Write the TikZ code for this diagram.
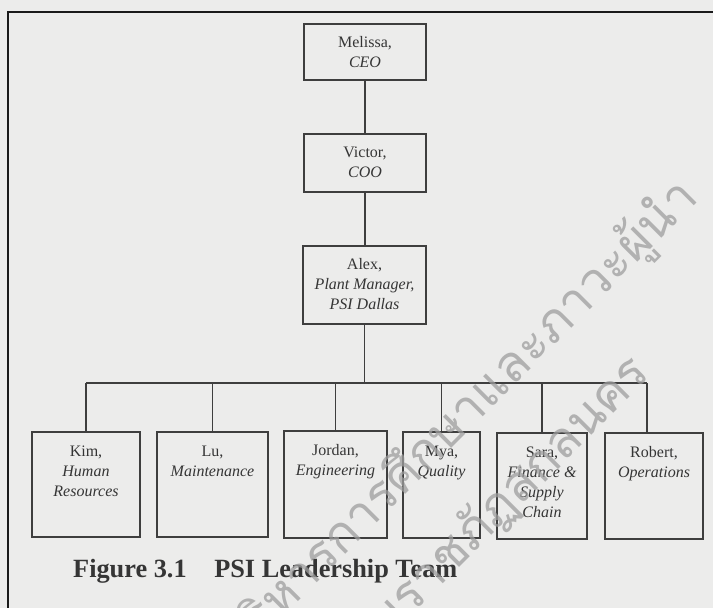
\documentclass[tikz,border=0pt]{standalone}
\usepackage{fontspec}
\setmainfont{Liberation Serif}
\newfontfamily\thaifont[Script=Thai]{Loma}
\definecolor{bgc}{HTML}{ECECEB}
\definecolor{linec}{HTML}{3E3E3E}
\definecolor{textc}{HTML}{353535}
\definecolor{framec}{HTML}{1A1A1A}
\definecolor{wmc}{HTML}{9E9E9E}
\begin{document}
\begin{tikzpicture}[x=1pt,y=-1pt,
  box/.style={draw=linec, line width=1.3pt, inner sep=0pt},
  lbl/.style={font=\fontsize{16}{20}\selectfont, text=textc, align=center, anchor=north, inner sep=0pt},
  link/.style={draw=linec, line width=1.4pt},
  wm/.style={font=\thaifont\fontsize{50}{60}\selectfont, text=wmc, rotate=45, anchor=base east, inner sep=0pt}]
\fill[bgc] (0,0) rectangle (713,608);
\useasboundingbox (0,0) rectangle (713,608);
\draw[line width=1.5pt, framec] (8,608) -- (8,12) -- (713,12);

% boxes
\node[box, minimum width=122pt, minimum height=56pt] (melissa) at (365,52) {};
\node[box, minimum width=122pt, minimum height=58pt] (victor) at (365,163) {};
\node[box, minimum width=123pt, minimum height=78pt] (alex) at (364.5,285) {};
\node[box, minimum width=108pt, minimum height=105pt] (kim) at (86,484.5) {};
\node[box, minimum width=111pt, minimum height=105pt] (lu) at (212.5,484.5) {};
\node[box, minimum width=103pt, minimum height=107pt] (jordan) at (335.5,484.5) {};
\node[box, minimum width=77pt, minimum height=106pt] (mya) at (441.5,485) {};
\node[box, minimum width=90pt, minimum height=106pt] (sara) at (542,486) {};
\node[box, minimum width=98pt, minimum height=106pt] (robert) at (654,486) {};

% labels
\node[lbl] (melissa-t) at ([yshift=-13pt]melissa.north) {Melissa,\\\textit{CEO}};
\node[lbl] (victor-t) at ([yshift=-13pt]victor.north) {Victor,\\\textit{COO}};
\node[lbl] (alex-t) at ([yshift=-13pt]alex.north) {Alex,\\\textit{Plant Manager,}\\\textit{PSI Dallas}};
\node[lbl] (kim-t) at ([yshift=-14pt]kim.north) {Kim,\\\textit{Human}\\\textit{Resources}};
\node[lbl] (lu-t) at ([yshift=-14pt]lu.north) {Lu,\\\textit{Maintenance}};
\node[lbl] (jordan-t) at ([yshift=-14pt]jordan.north) {Jordan,\\\textit{Engineering}};
\node[lbl] (mya-t) at ([yshift=-14pt]mya.north) {Mya,\\\textit{Quality}};
\node[lbl] (sara-t) at ([yshift=-14pt]sara.north) {Sara,\\\textit{Finance \&}\\\textit{Supply}\\\textit{Chain}};
\node[lbl] (robert-t) at ([yshift=-14pt]robert.north) {Robert,\\\textit{Operations}};

% connectors
\coordinate (bus) at (364.5,383);
\coordinate (rdrop) at (647,383);
\draw[link] (melissa.south) -- (melissa.south |- victor.north);
\draw[link] (victor.south) -- (victor.south |- alex.north);
\draw[link] (alex.south) -- (alex.south |- bus);
\draw[link] (kim.north |- bus) -- (rdrop);
\draw[link] (kim.north |- bus) -- (kim.north);
\draw[link] (lu.north |- bus) -- (lu.north);
\draw[link] (jordan.north |- bus) -- (jordan.north);
\draw[link] (mya.north |- bus) -- (mya.north);
\draw[link] (sara.north |- bus) -- (sara.north);
\draw[link] (rdrop) -- (rdrop |- robert.north);

% caption
\node[anchor=base west, inner sep=0pt, text=textc, font=\fontsize{26.3}{31}\selectfont\bfseries] (title) at (73,577) {Figure 3.1\hspace{1.05em}PSI Leadership Team};

% watermark
\node[wm, opacity=0.75] (wm1) at (700,200) {บริหารการศึกษาและภาวะผู้นำ};
\node[wm, opacity=0.75] (wm2) at (652,375) {มหาวิทยาลัยราชภัฏสกลนคร};
\end{tikzpicture}
\end{document}
